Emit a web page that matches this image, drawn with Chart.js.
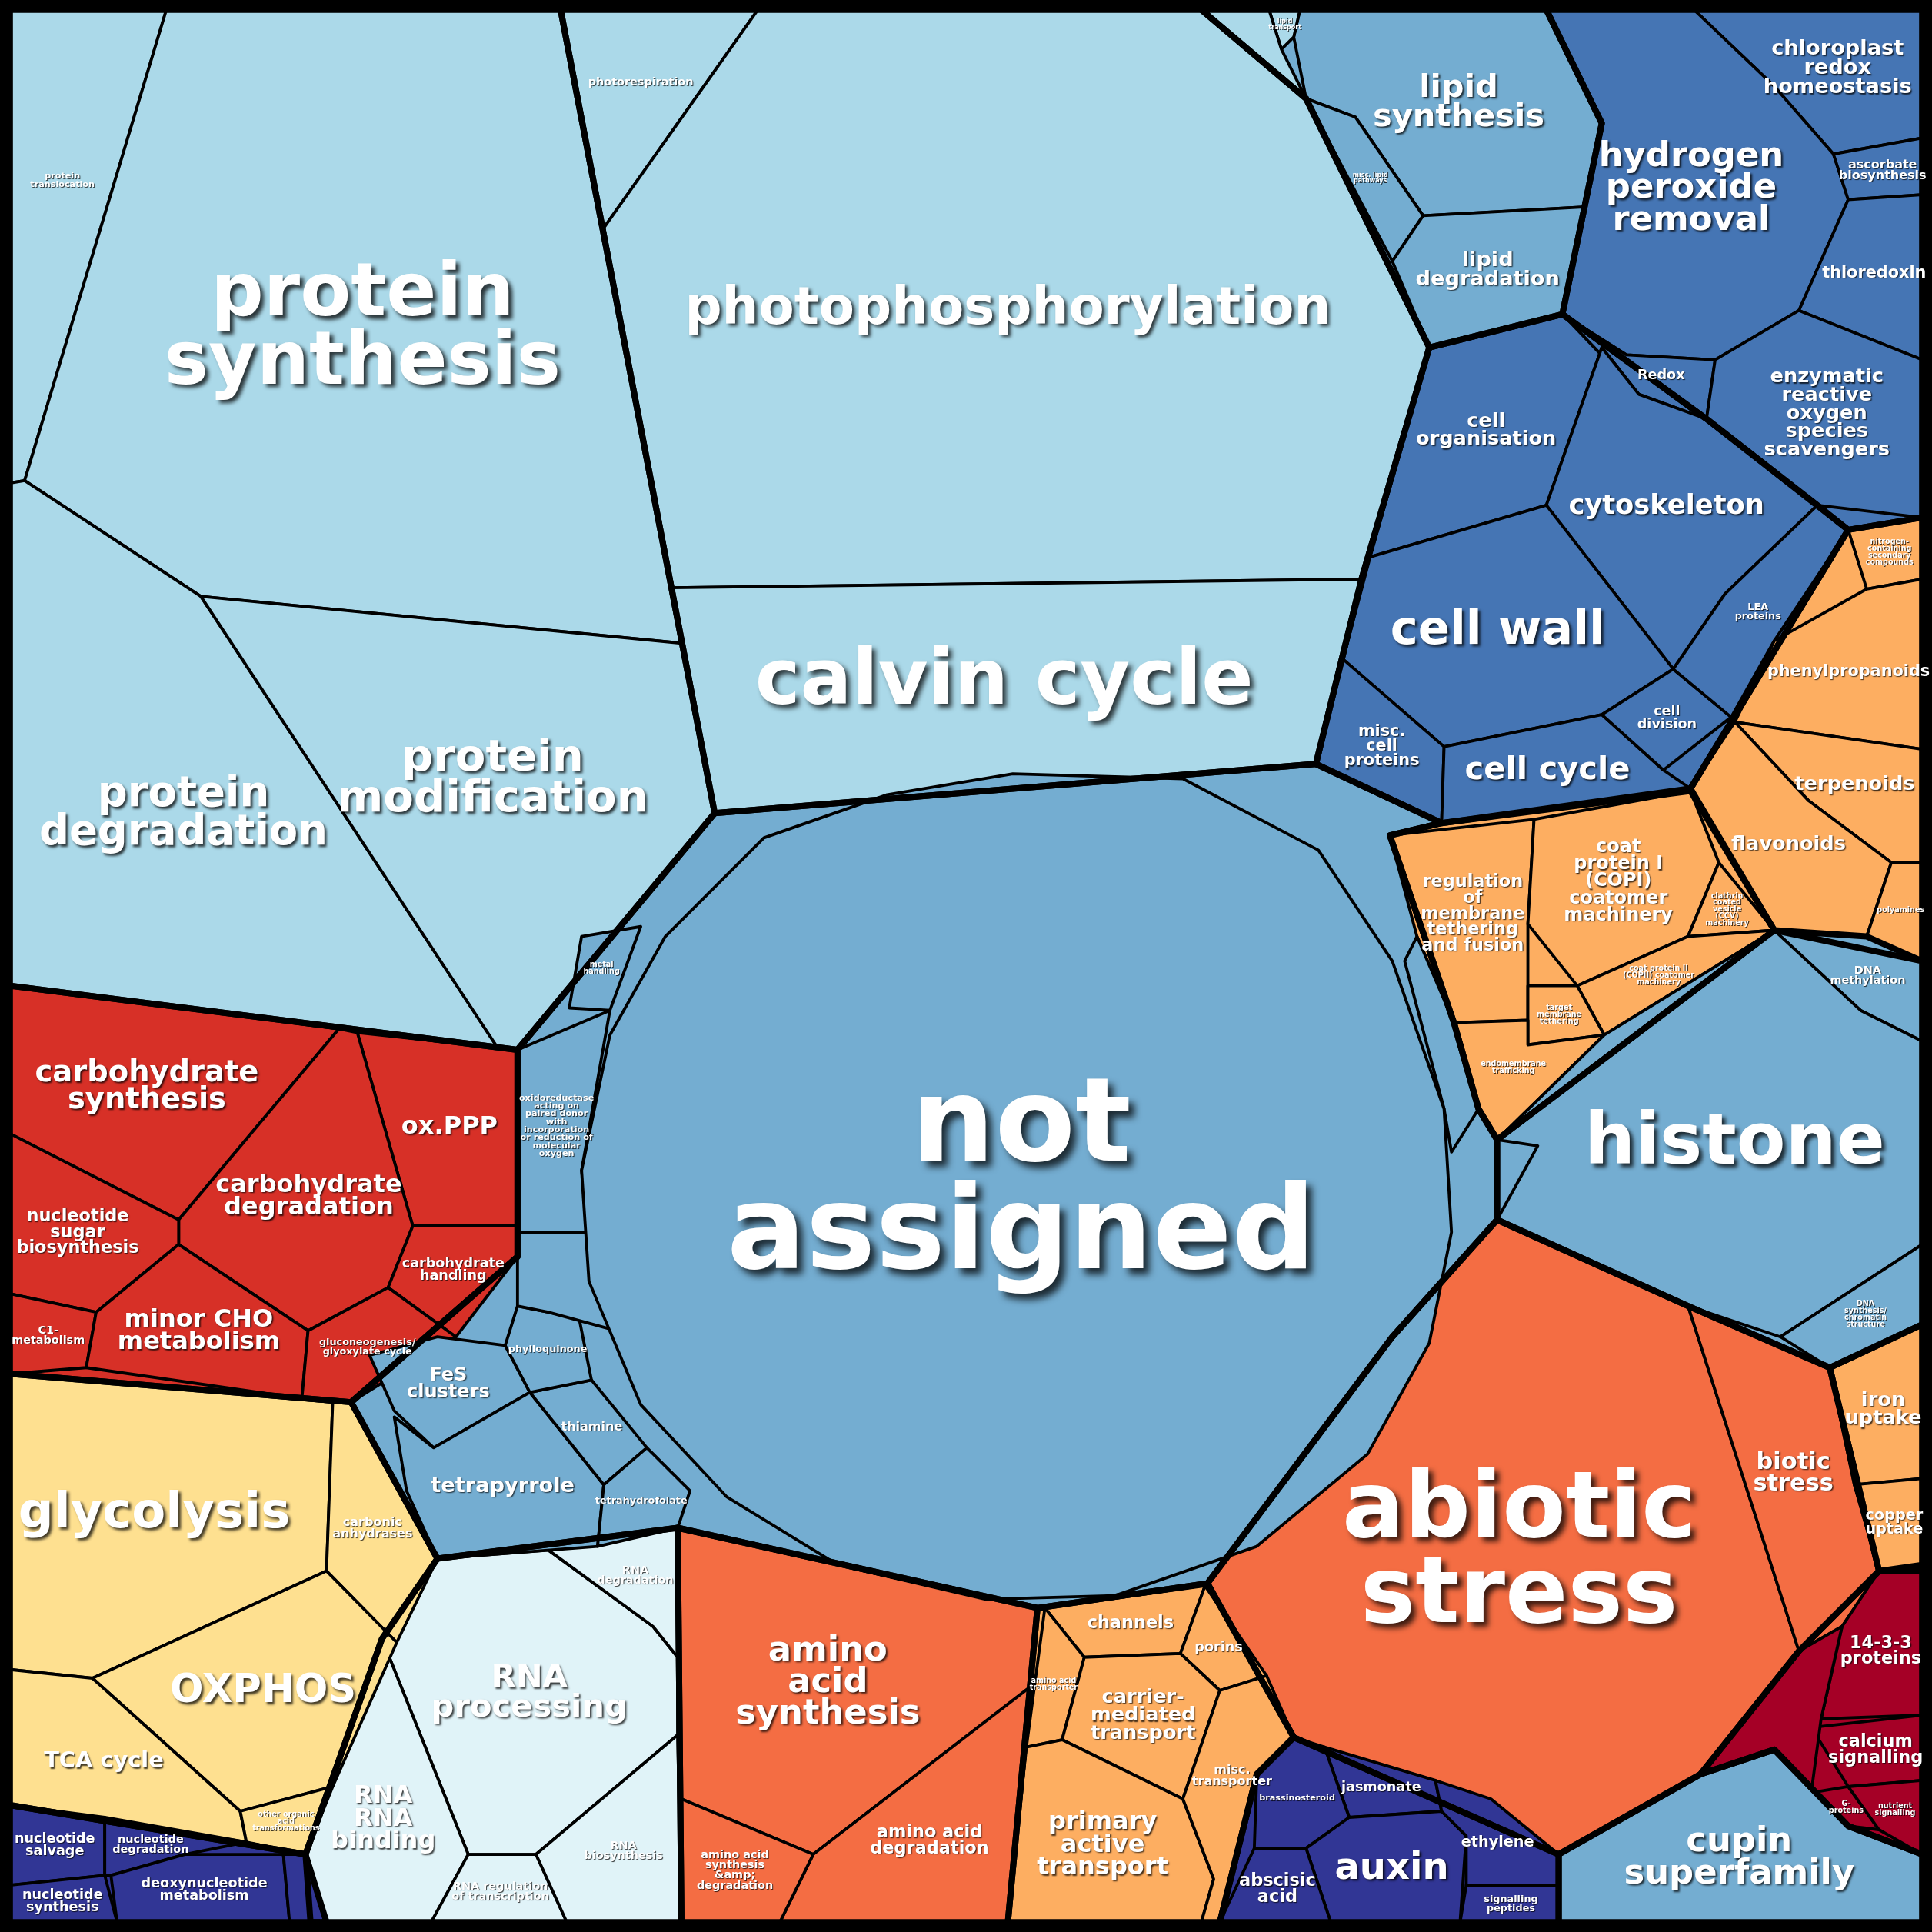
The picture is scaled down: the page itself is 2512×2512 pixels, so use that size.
<!DOCTYPE html>
<html>
<head>
<meta charset="utf-8">
<script src="https://cdn.jsdelivr.net/npm/chart.js@4.4.0/dist/chart.umd.min.js"></script>
<style>
  html, body { margin: 0; padding: 0; background: #000; }
  #wrap { width: 2512px; height: 2512px; }
</style>
</head>
<body>
<div id="wrap"><canvas id="c"></canvas></div>
<script>
// Voronoi treemap of functional categories, cell outlines in a 1568 x 1568 value space
const cellNames = [
  'protein\ntranslocation', 'protein\nsynthesis', 'protein\ndegradation', 'protein\nmodification',
  'photorespiration', 'photophosphorylation', 'calvin cycle',
  'lipid\nsynthesis', 'misc. lipid\npathways', 'lipid\ndegradation',
  'chloroplast\nredox\nhomeostasis', 'hydrogen\nperoxide\nremoval', 'ascorbate\nbiosynthesis', 'thioredoxin', 'Redox', 'enzymatic\nreactive\noxygen\nspecies\nscavengers',
  'cell\norganisation', 'cytoskeleton', 'cell wall', 'misc.\ncell\nproteins', 'cell cycle', 'cell\ndivision', 'LEA\nproteins',
  'nitrogen-\ncontaining\nsecondary\ncompounds', 'phenylpropanoids', 'terpenoids', 'flavonoids', 'polyamines',
  'regulation\nof\nmembrane\ntethering\nand fusion', 'coat\nprotein I\n(COPI)\ncoatomer\nmachinery', 'clathrin\ncoated\nvesicle\n(CCV)\nmachinery',
  'coat protein II\n(COPII) coatomer\nmachinery', 'target\nmembrane\ntethering', 'endomembrane\ntrafficking',
  'DNA\nmethylation', 'histone', 'DNA\nsynthesis/\nchromatin\nstructure',
  'abiotic\nstress', 'biotic\nstress', 'iron\nuptake', 'copper\nuptake',
  '14-3-3\nproteins', 'calcium\nsignalling', 'G-\nproteins', 'nutrient\nsignalling', '',
  'cupin\nsuperfamily',
  'jasmonate', 'brassinosteroid', 'auxin', 'abscisic\nacid', 'ethylene', 'signalling\npeptides',
  'channels', 'porins', 'amino acid\ntransporter', 'carrier-\nmediated\ntransport', 'primary\nactive\ntransport', 'misc.\ntransporter',
  'amino\nacid\nsynthesis', 'amino acid\ndegradation', 'amino acid\nsynthesis\n&amp;\ndegradation',
  'RNA\nprocessing', 'RNA\ndegradation', 'RNA\nRNA\nbinding', 'RNA regulation\nof transcription', 'RNA\nbiosynthesis',
  'glycolysis', 'carbonic\nanhydrases', 'OXPHOS', 'TCA cycle', 'other organic\nacid\ntransformations',
  'nucleotide\nsalvage', 'nucleotide\ndegradation', 'nucleotide\nsynthesis', 'deoxynucleotide\nmetabolism', '',
  'carbohydrate\nsynthesis', 'ox.PPP', 'carbohydrate\ndegradation', 'nucleotide\nsugar\nbiosynthesis', 'C1-\nmetabolism',
  'minor CHO\nmetabolism', 'carbohydrate\nhandling', 'gluconeogenesis/\nglyoxylate cycle',
  'oxidoreductase\nacting on\npaired donor\nwith\nincorporation\nor reduction of\nmolecular\noxygen',
  'FeS\nclusters', 'tetrapyrrole', 'thiamine', 'phylloquinone', 'tetrahydrofolate', 'metal\nhandling', '', '',
  'lipid\ntransport', '',
  'not\nassigned'
];

const cellGroups = [
  'protein', 'protein', 'protein', 'protein',
  'photo', 'photo', 'photo',
  'lipid', 'lipid', 'lipid',
  'redox', 'redox', 'redox', 'redox', 'redox', 'redox',
  'cell', 'cell', 'cell', 'cell', 'cell', 'cell', 'cell',
  'second', 'second', 'second', 'second', 'second',
  'vesicle', 'vesicle', 'vesicle', 'vesicle', 'vesicle', 'vesicle',
  'dna', 'dna', 'dna',
  'stress', 'stress', 'metal', 'metal',
  'signal', 'signal', 'signal', 'signal', 'signal',
  'cupin',
  'hormone', 'hormone', 'hormone', 'hormone', 'hormone', 'hormone',
  'transport', 'transport', 'transport', 'transport', 'transport', 'transport',
  'amino', 'amino', 'amino',
  'rna', 'rna', 'rna', 'rna', 'rna',
  'energy', 'energy', 'energy', 'energy', 'energy',
  'nucleo', 'nucleo', 'nucleo', 'nucleo', 'nucleo',
  'carb', 'carb', 'carb', 'carb', 'carb', 'carb', 'carb', 'carb',
  'misc', 'misc', 'misc', 'misc', 'misc', 'misc', 'misc', 'misc', 'misc',
  'topsmall', 'topsmall',
  'misc'
];

const cellShapes = [
  [[8,8],[135,8],[20,390],[8,392]],
  [[135,8],[455,8],[553,522],[163,484],[20,390]],
  [[8,392],[20,390],[163,484],[405,852],[8,800]],
  [[163,484],[553,522],[580,660],[420,852],[405,852]],
  [[455,8],[615,8],[490,185]],
  [[615,8],[975,8],[1060,80],[1160,282],[1105,470],[545,477],[490,185]],
  [[545,477],[1105,470],[1068,620],[580,660]],
  [[1055,8],[1255,8],[1300,100],[1285,168],[1155,175],[1100,95],[1060,80],[1050,30]],
  [[1060,80],[1100,95],[1155,175],[1130,212]],
  [[1130,212],[1155,175],[1285,168],[1268,255],[1160,282]],
  [[1375,8],[1560,8],[1560,112],[1488,125],[1440,70]],
  [[1255,8],[1375,8],[1440,70],[1488,125],[1500,162],[1460,252],[1392,292],[1320,288],[1268,255],[1300,100]],
  [[1488,125],[1560,112],[1560,158],[1500,162]],
  [[1500,162],[1560,158],[1560,292],[1460,252]],
  [[1268,255],[1320,288],[1392,292],[1385,340],[1330,320]],
  [[1392,292],[1460,252],[1560,292],[1560,420],[1475,410],[1385,340]],
  [[1160,282],[1268,255],[1330,320],[1300,282],[1255,410],[1112,452]],
  [[1300,282],[1330,320],[1385,340],[1475,410],[1400,482],[1358,543],[1255,410]],
  [[1112,452],[1255,410],[1358,543],[1300,580],[1172,606],[1090,535]],
  [[1090,535],[1172,606],[1170,668],[1068,620]],
  [[1172,606],[1300,580],[1350,625],[1372,640],[1170,668]],
  [[1300,580],[1358,543],[1405,582],[1350,625]],
  [[1400,482],[1475,410],[1500,430],[1440,520],[1405,582],[1358,543]],
  [[1500,430],[1560,420],[1560,470],[1515,478]],
  [[1515,478],[1560,470],[1560,608],[1408,586],[1440,520]],
  [[1408,586],[1560,608],[1560,700],[1535,700],[1468,650]],
  [[1372,640],[1408,586],[1468,650],[1535,700],[1515,760],[1440,755]],
  [[1535,700],[1560,700],[1560,780],[1515,760]],
  [[1128,678],[1245,665],[1240,750],[1240,828],[1180,830],[1150,760]],
  [[1245,665],[1372,642],[1395,700],[1370,760],[1280,800],[1240,750]],
  [[1370,760],[1395,700],[1440,755]],
  [[1280,800],[1370,760],[1440,755],[1302,840]],
  [[1240,800],[1280,800],[1302,840],[1240,848]],
  [[1180,830],[1240,828],[1240,848],[1302,840],[1215,925],[1200,900]],
  [[1440,755],[1515,760],[1560,780],[1560,845],[1510,820]],
  [[1215,925],[1302,840],[1440,755],[1510,820],[1560,845],[1560,1010],[1445,1085],[1370,1060],[1215,990],[1248,930]],
  [[1445,1085],[1560,1010],[1560,1075],[1485,1110]],
  [[1215,990],[1370,1060],[1460,1340],[1380,1440],[1265,1505],[1050,1410],[980,1285],[1130,1085]],
  [[1370,1060],[1485,1110],[1505,1205],[1525,1275],[1495,1320],[1460,1340]],
  [[1485,1110],[1560,1075],[1560,1200],[1505,1205]],
  [[1505,1205],[1560,1200],[1560,1275],[1525,1275]],
  [[1495,1320],[1525,1275],[1560,1270],[1560,1392],[1478,1395]],
  [[1470,1402],[1560,1392],[1560,1445],[1500,1450]],
  [[1470,1455],[1500,1450],[1525,1485],[1500,1482]],
  [[1500,1450],[1560,1445],[1560,1505],[1525,1485]],
  [[1460,1340],[1495,1320],[1478,1395],[1470,1455],[1500,1482],[1440,1420],[1380,1440]],
  [[1265,1505],[1380,1440],[1440,1420],[1500,1482],[1560,1505],[1560,1560],[1265,1560]],
  [[1075,1418],[1165,1445],[1170,1470],[1095,1475]],
  [[1020,1440],[1050,1410],[1075,1418],[1095,1475],[1060,1500],[1018,1500]],
  [[1060,1500],[1095,1475],[1170,1470],[1190,1490],[1185,1560],[1080,1560]],
  [[990,1560],[1018,1500],[1060,1500],[1080,1560]],
  [[1170,1470],[1165,1445],[1210,1460],[1265,1505],[1265,1530],[1190,1530],[1190,1490]],
  [[1190,1530],[1265,1530],[1265,1560],[1185,1560]],
  [[848,1305],[978,1287],[958,1342],[880,1345]],
  [[958,1342],[978,1287],[1028,1360],[990,1372]],
  [[848,1305],[880,1345],[862,1412],[833,1418]],
  [[880,1345],[958,1342],[990,1372],[960,1460],[862,1412]],
  [[833,1418],[862,1412],[960,1460],[985,1525],[975,1560],[818,1560]],
  [[960,1460],[990,1372],[1028,1360],[1050,1410],[1020,1440],[990,1560],[975,1560],[985,1525]],
  [[550,1240],[842,1305],[835,1370],[660,1505],[553,1460]],
  [[660,1505],[835,1370],[818,1560],[633,1560]],
  [[553,1460],[660,1505],[633,1560],[553,1560]],
  [[310,1330],[355,1265],[445,1258],[530,1320],[550,1345],[550,1408],[435,1505],[380,1505]],
  [[445,1258],[550,1240],[550,1345],[530,1320]],
  [[248,1505],[310,1330],[380,1505],[350,1560],[252,1560]],
  [[350,1560],[380,1505],[435,1505],[460,1560]],
  [[435,1505],[550,1408],[553,1560],[460,1560]],
  [[8,1115],[270,1138],[265,1275],[75,1362],[8,1355]],
  [[270,1138],[285,1138],[355,1265],[322,1333],[265,1275]],
  [[75,1362],[265,1275],[322,1333],[270,1450],[195,1470]],
  [[8,1355],[75,1362],[195,1470],[200,1495],[8,1465]],
  [[195,1470],[270,1450],[248,1505],[200,1495]],
  [[8,1465],[85,1475],[85,1522],[8,1530]],
  [[85,1475],[200,1495],[150,1505],[90,1522],[85,1522]],
  [[8,1530],[85,1522],[95,1560],[8,1560]],
  [[90,1522],[150,1505],[230,1505],[235,1560],[95,1560]],
  [[230,1505],[248,1505],[265,1560],[235,1560]],
  [[8,800],[275,835],[145,990],[8,920]],
  [[290,838],[420,852],[420,995],[335,995]],
  [[275,835],[290,838],[335,995],[315,1045],[250,1080],[145,1010],[145,990]],
  [[8,920],[145,990],[145,1010],[78,1065],[8,1050]],
  [[8,1050],[78,1065],[70,1110],[8,1115]],
  [[78,1065],[145,1010],[250,1080],[245,1135],[70,1110]],
  [[335,995],[420,995],[420,1020],[370,1085],[315,1045]],
  [[250,1080],[315,1045],[370,1085],[285,1138],[245,1135]],
  [[420,852],[495,820],[472,950],[478,1000],[420,1000]],
  [[300,1100],[355,1085],[410,1092],[430,1130],[352,1175],[320,1145]],
  [[320,1150],[352,1175],[430,1130],[490,1205],[485,1255],[355,1265],[330,1210]],
  [[430,1130],[480,1120],[525,1175],[490,1205]],
  [[410,1092],[420,1060],[470,1070],[480,1120],[430,1130]],
  [[490,1205],[525,1175],[560,1210],[550,1240],[485,1255]],
  [[472,760],[520,752],[495,820],[462,818]],
  [[420,1000],[478,1000],[500,1080],[445,1065],[420,1060]],
  [[1140,780],[1172,900],[1178,935],[1200,900],[1180,830],[1150,760]],
  [[1030,8],[1055,8],[1050,30],[1040,40]],
  [[975,8],[1030,8],[1040,40],[1060,80]],
  [[822,628],[960,632],[1070,690],[1130,780],[1172,900],[1178,1000],[1160,1090],[1110,1180],[1020,1255],[905,1295],[800,1298],[680,1270],[590,1215],[520,1140],[478,1040],[472,950],[495,840],[540,760],[620,680],[720,645]]
];

const groupNames = ['protein','photo','lipid','redox','cell','second','vesicle','dna','stress','metal','signal','cupin','hormone','transport','amino','rna','energy','nucleo','carb','misc'];
const groupShapes = [
  [[8,8],[455,8],[580,660],[420,852],[8,800]],
  [[455,8],[975,8],[1060,80],[1160,282],[1105,470],[1068,620],[580,660]],
  [[975,8],[1255,8],[1300,100],[1268,255],[1160,282],[1060,80]],
  [[1255,8],[1560,8],[1560,420],[1500,430],[1475,410],[1385,340],[1268,255],[1300,100]],
  [[1160,282],[1268,255],[1385,340],[1500,430],[1372,640],[1170,668],[1068,620],[1105,470]],
  [[1500,430],[1560,420],[1560,780],[1515,760],[1440,755],[1372,640]],
  [[1128,678],[1170,668],[1372,642],[1440,755],[1215,925],[1200,900],[1180,830]],
  [[1440,755],[1560,780],[1560,1075],[1485,1110],[1370,1060],[1215,990],[1215,925]],
  [[1215,990],[1370,1060],[1485,1110],[1525,1275],[1460,1340],[1380,1440],[1265,1505],[1050,1410],[980,1285],[1130,1085]],
  [[1485,1110],[1560,1075],[1560,1275],[1525,1275]],
  [[1460,1340],[1525,1275],[1560,1270],[1560,1505],[1500,1482],[1440,1420],[1380,1440]],
  [[1265,1505],[1380,1440],[1440,1420],[1500,1482],[1560,1505],[1560,1560],[1265,1560]],
  [[1050,1410],[1265,1505],[1265,1560],[990,1560],[1020,1440]],
  [[842,1305],[980,1285],[1050,1410],[1020,1440],[990,1560],[818,1560]],
  [[550,1240],[842,1305],[818,1560],[553,1560]],
  [[355,1265],[550,1240],[553,1560],[252,1560],[248,1505],[310,1330]],
  [[8,1115],[285,1138],[355,1265],[310,1330],[248,1505],[8,1465]],
  [[8,1465],[248,1505],[265,1560],[8,1560]],
  [[8,800],[420,852],[420,1020],[285,1138],[8,1115]],
  [[580,660],[1068,620],[1170,668],[1128,678],[1180,830],[1200,900],[1215,925],[1215,990],[1130,1085],[980,1285],[842,1305],[550,1240],[355,1265],[285,1138],[420,1020],[420,852]]
];

// styles
const groupColors = {
  protein: '#abd9e9', photo: '#abd9e9', lipid: '#74add1', redox: '#4575b4', cell: '#4575b4',
  second: '#fdae61', vesicle: '#fdae61', dna: '#74add1', stress: '#f46d43', metal: '#fdae61',
  signal: '#a50026', cupin: '#74add1', hormone: '#313695', transport: '#fdae61', amino: '#f46d43',
  rna: '#e0f3f8', energy: '#fee090', nucleo: '#313695', carb: '#d73027', misc: '#74add1',
  topsmall: '#abd9e9'
};
const labelSizes = [
  7, 60, 34, 36, 9, 42, 62, 26, 5, 17, 17, 28, 10, 13, 11, 16,
  16, 22, 38, 13, 26, 11, 8, 6, 13, 16, 16, 6, 14, 15, 6, 6, 6, 6, 9, 58, 6,
  75, 19, 16, 12, 14, 14, 6, 6, 0, 28,
  11, 7, 30, 14, 12, 8, 14, 11, 6, 16, 20, 10, 28, 14, 9, 26, 9, 20, 9, 9,
  40, 10, 32, 18, 6, 11, 9, 11, 11, 0,
  24, 20, 20, 14, 9, 20, 11, 8, 7, 15, 17, 10, 8, 8, 6, 0, 0,
  5, 0, 95
];

const S = 2512 / 1568;

function tracePath(ctx, pts) {
  ctx.beginPath();
  pts.forEach((p, k) => (k ? ctx.lineTo(p.x, p.y) : ctx.moveTo(p.x, p.y)));
  ctx.closePath();
}

const polygonPlugin = {
  id: 'polygons',
  beforeDraw(chart) {
    const ctx = chart.ctx;
    ctx.save();
    ctx.fillStyle = '#000';
    ctx.fillRect(0, 0, chart.width, chart.height);
    ctx.restore();
  },
  afterDatasetsDraw(chart) {
    const ctx = chart.ctx;
    const sets = chart.data.datasets.map((ds, i) => ({ ds, pts: chart.getDatasetMeta(i).data }));
    ctx.save();
    ctx.lineJoin = 'round';
    // group fills underneath
    sets.filter(s => s.ds.kind === 'group').forEach(({ ds, pts }) => {
      tracePath(ctx, pts);
      ctx.fillStyle = groupColors[ds.group];
      ctx.fill();
    });
    // cells
    sets.filter(s => s.ds.kind === 'cell').forEach(({ ds, pts }) => {
      tracePath(ctx, pts);
      ctx.fillStyle = ds.fillColor;
      ctx.fill();
      ctx.lineWidth = 2.4 * S;
      ctx.strokeStyle = '#000';
      ctx.stroke();
    });
    // group outlines on top
    sets.filter(s => s.ds.kind === 'group').forEach(({ pts }) => {
      tracePath(ctx, pts);
      ctx.lineWidth = 5 * S;
      ctx.strokeStyle = '#000';
      ctx.stroke();
    });
    // labels at cell centroids
    sets.forEach(({ ds, pts }) => {
      if (ds.kind !== 'cell' || !ds.fontSize || !ds.label) return;
      let a = 0, cx = 0, cy = 0;
      for (let k = 0; k < pts.length; k++) {
        const p = pts[k], q = pts[(k + 1) % pts.length];
        const f = p.x * q.y - q.x * p.y;
        a += f; cx += (p.x + q.x) * f; cy += (p.y + q.y) * f;
      }
      cx /= 3 * a; cy /= 3 * a;
      const fs = ds.fontSize * S;
      const lines = ds.label.split('\n');
      ctx.font = 'bold ' + fs + 'px "DejaVu Sans"';
      ctx.textAlign = 'center';
      ctx.textBaseline = 'middle';
      ctx.fillStyle = '#fff';
      ctx.shadowColor = 'rgba(0,0,0,0.75)';
      ctx.shadowOffsetX = Math.max(1, fs * 0.05);
      ctx.shadowOffsetY = Math.max(1, fs * 0.05);
      ctx.shadowBlur = fs * 0.06;
      const lh = fs * 0.92;
      lines.forEach((ln, k) => {
        ctx.fillText(ln, cx, cy + (k - (lines.length - 1) / 2) * lh);
      });
      ctx.shadowColor = 'transparent';
    });
    ctx.restore();
  }
};

const toPts = (shape) => shape.map(([x, y]) => ({ x, y }));

const datasets = cellShapes.map((shape, i) => ({
  kind: 'cell',
  label: cellNames[i],
  data: toPts(shape),
  fillColor: groupColors[cellGroups[i]],
  fontSize: labelSizes[i],
  showLine: false,
  pointRadius: 0
})).concat(groupShapes.map((shape, i) => ({
  kind: 'group',
  label: '',
  group: groupNames[i],
  data: toPts(shape),
  showLine: false,
  pointRadius: 0
})));

new Chart(document.getElementById('c'), {
  type: 'scatter',
  data: { datasets },
  plugins: [polygonPlugin],
  options: {
    responsive: true,
    maintainAspectRatio: false,
    devicePixelRatio: 1,
    animation: false,
    layout: { padding: 0 },
    plugins: { legend: { display: false }, tooltip: { enabled: false } },
    scales: {
      x: { type: 'linear', min: 0, max: 1568, display: false },
      y: { type: 'linear', min: 0, max: 1568, reverse: true, display: false }
    }
  }
});
</script>
</body>
</html>
